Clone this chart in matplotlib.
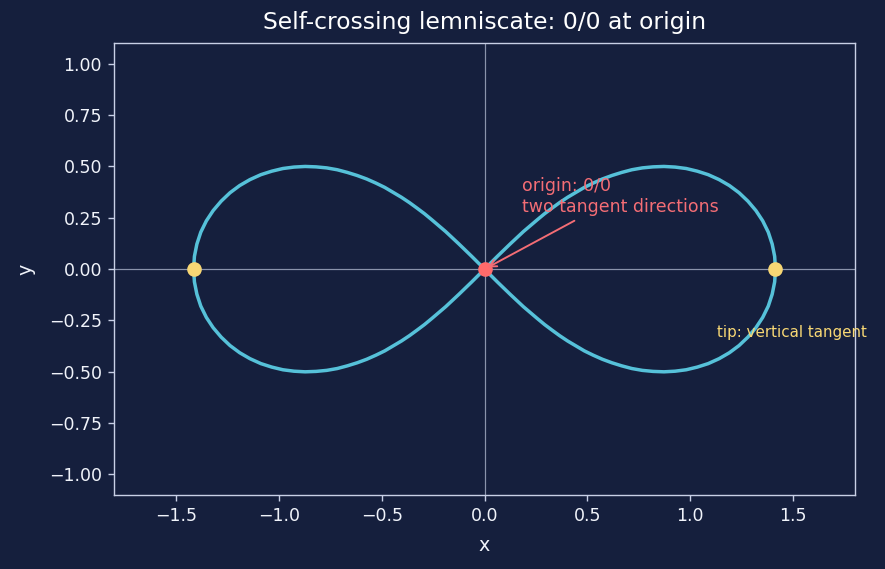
import matplotlib
matplotlib.use("Agg")
import matplotlib.pyplot as plt

# curve, one branch at a time (figure eight, drawn as one line)
right_up_x = [1.414, 1.410, 1.398, 1.379, 1.352, 1.319, 1.280, 1.237, 1.190, 1.140, 1.087, 1.034,
              0.980, 0.926, 0.872, 0.819, 0.767, 0.716, 0.667, 0.619, 0.573, 0.528, 0.485, 0.444,
              0.404, 0.365, 0.328, 0.292, 0.257, 0.223, 0.189, 0.157, 0.125, 0.093, 0.062, 0.031, 0.0]
right_up_y = [0.0, 0.062, 0.122, 0.180, 0.235, 0.285, 0.331, 0.372, 0.407, 0.436, 0.460, 0.477,
              0.490, 0.497, 0.500, 0.498, 0.493, 0.484, 0.471, 0.456, 0.439, 0.419, 0.398, 0.374,
              0.350, 0.324, 0.297, 0.270, 0.241, 0.212, 0.183, 0.153, 0.123, 0.092, 0.062, 0.031, 0.0]

left_dn_x = [-0.031, -0.062, -0.093, -0.125, -0.157, -0.189, -0.223, -0.257, -0.292, -0.328, -0.365,
             -0.404, -0.444, -0.485, -0.528, -0.573, -0.619, -0.667, -0.716, -0.767, -0.819, -0.872,
             -0.926, -0.980, -1.034, -1.087, -1.140, -1.190, -1.237, -1.280, -1.319, -1.352, -1.379,
             -1.398, -1.410, -1.414]
left_dn_y = [-0.031, -0.062, -0.092, -0.123, -0.153, -0.183, -0.212, -0.241, -0.270, -0.297, -0.324,
             -0.350, -0.374, -0.398, -0.419, -0.439, -0.456, -0.471, -0.484, -0.493, -0.498, -0.500,
             -0.497, -0.490, -0.477, -0.460, -0.436, -0.407, -0.372, -0.331, -0.285, -0.235, -0.180,
             -0.122, -0.062, 0.0]

left_up_x = [-1.410, -1.398, -1.379, -1.352, -1.319, -1.280, -1.237, -1.190, -1.140, -1.087, -1.034,
             -0.980, -0.926, -0.872, -0.819, -0.767, -0.716, -0.667, -0.619, -0.573, -0.528, -0.485,
             -0.444, -0.404, -0.365, -0.328, -0.292, -0.257, -0.223, -0.189, -0.157, -0.125, -0.093,
             -0.062, -0.031, 0.0]
left_up_y = [0.062, 0.122, 0.180, 0.235, 0.285, 0.331, 0.372, 0.407, 0.436, 0.460, 0.477,
             0.490, 0.497, 0.500, 0.498, 0.493, 0.484, 0.471, 0.456, 0.439, 0.419, 0.398,
             0.374, 0.350, 0.324, 0.297, 0.270, 0.241, 0.212, 0.183, 0.153, 0.123, 0.092,
             0.062, 0.031, 0.0]

right_dn_x = [0.031, 0.062, 0.093, 0.125, 0.157, 0.189, 0.223, 0.257, 0.292, 0.328, 0.365,
              0.404, 0.444, 0.485, 0.528, 0.573, 0.619, 0.667, 0.716, 0.767, 0.819, 0.872,
              0.926, 0.980, 1.034, 1.087, 1.140, 1.190, 1.237, 1.280, 1.319, 1.352, 1.379,
              1.398, 1.410, 1.414]
right_dn_y = [-0.031, -0.062, -0.092, -0.123, -0.153, -0.183, -0.212, -0.241, -0.270, -0.297, -0.324,
              -0.350, -0.374, -0.398, -0.419, -0.439, -0.456, -0.471, -0.484, -0.493, -0.498, -0.500,
              -0.497, -0.490, -0.477, -0.460, -0.436, -0.407, -0.372, -0.331, -0.285, -0.235, -0.180,
              -0.122, -0.062, 0.0]

curve_x = right_up_x + left_dn_x + left_up_x + right_dn_x
curve_y = right_up_y + left_dn_y + left_up_y + right_dn_y

tips_x = [-1.414, 1.414]
tips_y = [0.0, 0.0]
origin = (0.0, 0.0)

xticks = [-1.5, -1.0, -0.5, 0.0, 0.5, 1.0, 1.5]
yticks = [-1.0, -0.75, -0.5, -0.25, 0.0, 0.25, 0.5, 0.75, 1.0]

bg = '#151f3d'
fg = '#f0f3fa'
spine = '#c8d0e6'

fig, ax = plt.subplots(figsize=(7.08, 4.552), dpi=125)
fig.patch.set_facecolor(bg)
ax.set_facecolor(bg)

ax.axhline(0, color='#8a93ab', linewidth=0.7, zorder=1)
ax.axvline(0, color='#8a93ab', linewidth=0.7, zorder=1)

ax.plot(curve_x, curve_y, color='#56c1d9', linewidth=2.0, zorder=2)
ax.scatter(tips_x, tips_y, s=55, color='#f7d774', zorder=3)
ax.scatter([origin[0]], [origin[1]], s=55, color='#ff6b6b', zorder=3)

ax.annotate('origin: 0/0\ntwo tangent directions', xy=origin, xytext=(0.18, 0.28),
            color='#f46d75', fontsize=10,
            arrowprops=dict(arrowstyle='->', color='#f46d75', lw=1.1))
ax.text(1.13, -0.33, 'tip: vertical tangent', color='#f7d774', fontsize=8.7)

ax.set_xlim(-1.8, 1.8)
ax.set_ylim(-1.1, 1.1)
ax.set_xticks(xticks)
ax.set_yticks(yticks)
ax.set_title('Self-crossing lemniscate: 0/0 at origin', color='white', fontsize=13.5, pad=8)
ax.set_xlabel('x', color=fg, fontsize=11, labelpad=6)
ax.set_ylabel('y', color=fg, fontsize=11, labelpad=8)
ax.tick_params(colors=spine, labelcolor=fg, labelsize=10)
for s in ax.spines.values():
    s.set_color(spine)

fig.subplots_adjust(left=0.129, right=0.966, top=0.924, bottom=0.130)
fig.savefig('out.png', dpi=125, facecolor=bg)
